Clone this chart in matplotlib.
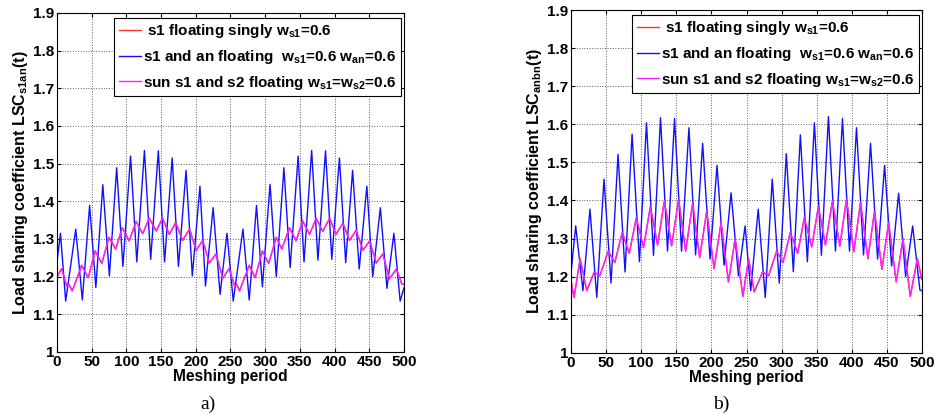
import matplotlib
matplotlib.use('Agg')
import matplotlib.pyplot as plt

plt.rcParams['font.family'] = ['Liberation Sans', 'DejaVu Sans']
plt.rcParams['font.weight'] = 'bold'
plt.rcParams['mathtext.fontset'] = 'custom'
plt.rcParams['mathtext.rm'] = 'Liberation Sans:bold'
plt.rcParams['mathtext.it'] = 'Liberation Sans:bold'
plt.rcParams['mathtext.bf'] = 'Liberation Sans:bold'

#local peaks / troughs, panel a)
blue_a_x = [0, 5, 12.5, 27, 36.5, 47, 56, 66, 75.5, 86, 95, 106, 115, 126, 135, 146, 155, 166, 175, 186,
            195, 206, 214, 225, 235, 245, 254, 268, 277, 287.5, 296, 307, 316, 327, 336, 347.5, 356, 367,
            376, 387, 396, 407, 416, 426, 435.5, 446.5, 455, 466, 475.5, 485.5, 494.5, 500]
blue_a_y = [1.24, 1.315, 1.135, 1.326, 1.138, 1.389, 1.171, 1.444, 1.202, 1.489, 1.227, 1.520, 1.239, 1.535,
            1.246, 1.534, 1.239, 1.515, 1.227, 1.482, 1.202, 1.44, 1.175, 1.383, 1.153, 1.315, 1.135, 1.326,
            1.138, 1.389, 1.173, 1.445, 1.2, 1.489, 1.224, 1.52, 1.239, 1.535, 1.244, 1.534, 1.246, 1.515,
            1.237, 1.482, 1.22, 1.44, 1.2, 1.383, 1.169, 1.315, 1.135, 1.17]
mag_a_x = [0, 6.7, 14, 17, 22, 35.5, 45, 55, 64.5, 75, 84.5, 94, 104, 114, 123.5, 133, 143, 152, 162, 171,
           181, 191, 200.5, 210, 219.5, 229, 239, 248, 256, 259, 263, 277, 285.5, 296, 305, 316, 324, 335,
           344.5, 354, 364, 373.5, 383, 393, 402, 412, 421.5, 431, 441, 450.5, 460, 469.5, 479, 489, 497, 500]
mag_a_y = [1.2, 1.221, 1.175, 1.18, 1.162, 1.23, 1.197, 1.268, 1.235, 1.304, 1.273, 1.33, 1.295, 1.346,
           1.314, 1.355, 1.321, 1.355, 1.312, 1.344, 1.296, 1.326, 1.27, 1.296, 1.236, 1.26, 1.196, 1.221,
           1.175, 1.18, 1.162, 1.23, 1.197, 1.268, 1.235, 1.304, 1.273, 1.33, 1.295, 1.348, 1.312, 1.355,
           1.32, 1.355, 1.312, 1.342, 1.296, 1.323, 1.27, 1.295, 1.236, 1.26, 1.194, 1.22, 1.18, 1.18]
#red curve lies under the magenta one
red_a_x = mag_a_x
red_a_y = mag_a_y

#panel b)
blue_b_x = [0, 6.7, 17, 27, 36.7, 47, 57, 67, 77, 87, 97.5, 107.5, 117.5, 127.5, 137.5, 147.5, 157.5, 168,
            177.5, 187.5, 198, 208, 218, 228, 238.5, 248, 256, 266.7, 276.7, 286.7, 296.7, 306.7, 316.7,
            326.7, 336.7, 346.7, 356.7, 366.7, 376.7, 386.7, 396.7, 406.7, 416.7, 426.7, 436.7, 446.7,
            456.7, 466.7, 476.7, 486.7, 497, 500]
blue_b_y = [1.21, 1.333, 1.163, 1.377, 1.145, 1.456, 1.183, 1.521, 1.212, 1.574, 1.239, 1.604, 1.256, 1.617,
            1.267, 1.615, 1.267, 1.591, 1.257, 1.55, 1.246, 1.492, 1.23, 1.42, 1.202, 1.333, 1.163, 1.377,
            1.145, 1.456, 1.183, 1.523, 1.213, 1.572, 1.239, 1.604, 1.256, 1.62, 1.267, 1.615, 1.267, 1.591,
            1.257, 1.55, 1.246, 1.492, 1.228, 1.419, 1.2, 1.333, 1.165, 1.163]
mag_b_x = [0, 4.3, 13, 22.4, 33, 41, 53, 62.4, 73, 83, 93, 103.3, 113, 123.3, 133, 143.3, 153.3, 163.3,
           173.3, 183.3, 193.3, 203.8, 213.8, 224.3, 233.8, 244.8, 253, 261, 272.9, 281.4, 292.9, 302,
           312.4, 322.9, 332.4, 342.9, 352.4, 362.4, 372.4, 382.9, 392.4, 402.9, 412.4, 422.9, 432.4,
           442.9, 452.4, 463.3, 472.9, 483.3, 493.3, 500]
mag_b_y = [1.19, 1.145, 1.247, 1.163, 1.212, 1.202, 1.267, 1.237, 1.316, 1.261, 1.355, 1.276, 1.384, 1.283,
           1.399, 1.281, 1.403, 1.267, 1.393, 1.25, 1.372, 1.221, 1.342, 1.186, 1.3, 1.148, 1.247, 1.16,
           1.212, 1.202, 1.267, 1.237, 1.316, 1.261, 1.355, 1.278, 1.384, 1.283, 1.399, 1.28, 1.403, 1.265,
           1.395, 1.247, 1.372, 1.219, 1.342, 1.186, 1.3, 1.148, 1.247, 1.193]
red_b_x = mag_b_x
red_b_y = mag_b_y

labels = [r' s1 floating singly w$_{s1}$=0.6',
          r's1 and an floating  w$_{s1}$=0.6 w$_{an}$=0.6',
          r'sun s1 and s2 floating w$_{s1}$=w$_{s2}$=0.6']
xticks = list(range(0, 501, 50))
yticks = [1, 1.1, 1.2, 1.3, 1.4, 1.5, 1.6, 1.7, 1.8, 1.9]
yticklabels = ['1', '1.1', '1.2', '1.3', '1.4', '1.5', '1.6', '1.7', '1.8', '1.9']

fig = plt.figure(figsize=(9.39, 4.17), dpi=100)
ax1 = fig.add_axes([0.0607, 0.156, 0.3695, 0.813])
ax2 = fig.add_axes([0.6081, 0.154, 0.3738, 0.822])

panels = [(ax1, red_a_x, red_a_y, blue_a_x, blue_a_y, mag_a_x, mag_a_y, r'Load sharing coefficient LSC$_{s1an}$(t)', 'a)', 0.221),
          (ax2, red_b_x, red_b_y, blue_b_x, blue_b_y, mag_b_x, mag_b_y, r'Load sharing coefficient LSC$_{anbn}$(t)', 'b)', 0.768)]

for ax, rx, ry, bx, by, mx, my, ylab, cap, capx in panels:
	l1, = ax.plot(rx, ry, color='#ff3030', lw=1.0)
	l2, = ax.plot(bx, by, color='#1010ff', lw=1.0)
	l3, = ax.plot(mx, my, color='#ff20ff', lw=1.0)
	ax.set_xlim(0, 500)
	ax.set_ylim(1, 1.9)
	ax.set_xticks(xticks)
	ax.set_yticks(yticks)
	ax.set_yticklabels(yticklabels)
	ax.tick_params(direction='in', top=True, right=True, length=3, labelsize=11, pad=2)
	for t in ax.get_xticklabels() + ax.get_yticklabels():
		t.set_fontweight('bold')
	ax.grid(True, linestyle=':', color='#606060', lw=0.7)
	ax.set_xlabel('Meshing period', fontsize=11.2, fontweight='bold', labelpad=0)
	ax.set_ylabel(ylab, fontsize=11.5, fontweight='bold', labelpad=2)
	leg = ax.legend([l1, l2, l3], labels, loc='upper right', bbox_to_anchor=(1.0, 0.995),
	                prop={'weight': 'bold', 'size': 11}, handlelength=1.45, handletextpad=0.15,
	                labelspacing=0.5, borderpad=0.3, fancybox=False, framealpha=1, borderaxespad=0.2)
	leg.get_frame().set_edgecolor('black')
	leg.get_frame().set_linewidth(0.8)
	fig.text(capx, 0.03, cap, ha='center', va='center',
	         fontsize=14, family='Liberation Serif', fontweight='normal')

fig.savefig('out.png', dpi=100)
